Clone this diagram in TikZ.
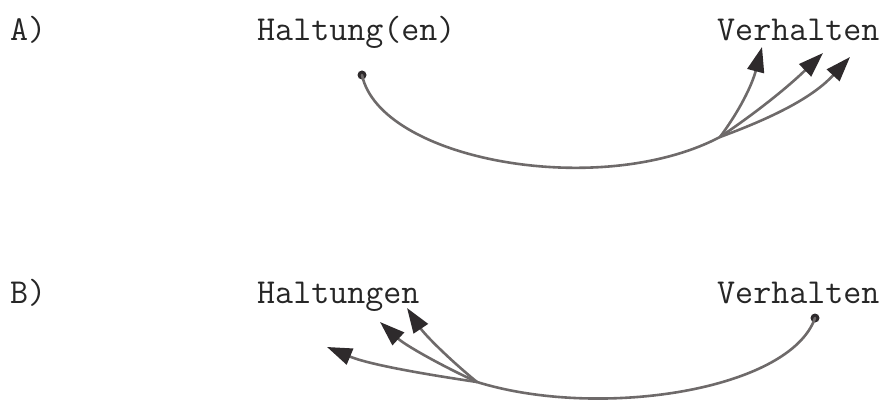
\documentclass[tikz,border=0pt]{standalone}
\usetikzlibrary{arrows.meta}
\definecolor{linegray}{HTML}{6E6A6A}
\definecolor{tipdark}{HTML}{2E2A2C}
\tikzset{
  lbl/.style={anchor=base west, inner sep=0pt, font=\fontsize{35}{35}\selectfont\ttfamily, text=black!85},
  curve/.style={draw=linegray, line width=2.6pt, line cap=round},
  arr/.style={curve, -{Triangle[length=25pt,width=17pt,color=tipdark]}},
  dotend/.style={circle, fill=tipdark, inner sep=0pt, minimum size=9pt}
}
\begin{document}
\begin{tikzpicture}[x=1pt,y=-1pt]
\useasboundingbox (0,0) rectangle (893,403);
% labels
\node[lbl] (la) at (10,41) {A)};
\node[lbl] (ha) at (257,41) {Haltung(en)};
\node[lbl] (va) at (717,41) {Verhalten};
\node[lbl] (lb) at (10,303) {B)};
\node[lbl] (hb) at (257,303) {Haltungen};
\node[lbl] (vb) at (717,303) {Verhalten};
% A
\node[dotend] (sa) at (362,75) {};
\coordinate (ja) at (720,137);
\coordinate (ta1) at (762,47);
\coordinate (ta2) at (823,53);
\coordinate (ta3) at (850,57);
\draw[curve] (sa.center) .. controls (380,160) and (600,200) .. (ja);
\draw[arr] (ja) .. controls (740,110) and (752,85) .. (ta1);
\draw[arr] (ja) .. controls (760,110) and (790,85) .. (ta2);
\draw[arr] (ja) .. controls (780,115) and (815,95) .. (ta3);
% B
\node[dotend] (sb) at (815,318) {};
\coordinate (jb) at (477,382);
\coordinate (tb1) at (327,347);
\coordinate (tb2) at (380,322);
\coordinate (tb3) at (407,308);
\draw[curve] (sb.center) .. controls (790,390) and (600,420) .. (jb);
\draw[arr] (jb) .. controls (430,375) and (370,365) .. (tb1);
\draw[arr] (jb) .. controls (440,365) and (405,345) .. (tb2);
\draw[arr] (jb) .. controls (450,360) and (425,335) .. (tb3);
\end{tikzpicture}
\end{document}
